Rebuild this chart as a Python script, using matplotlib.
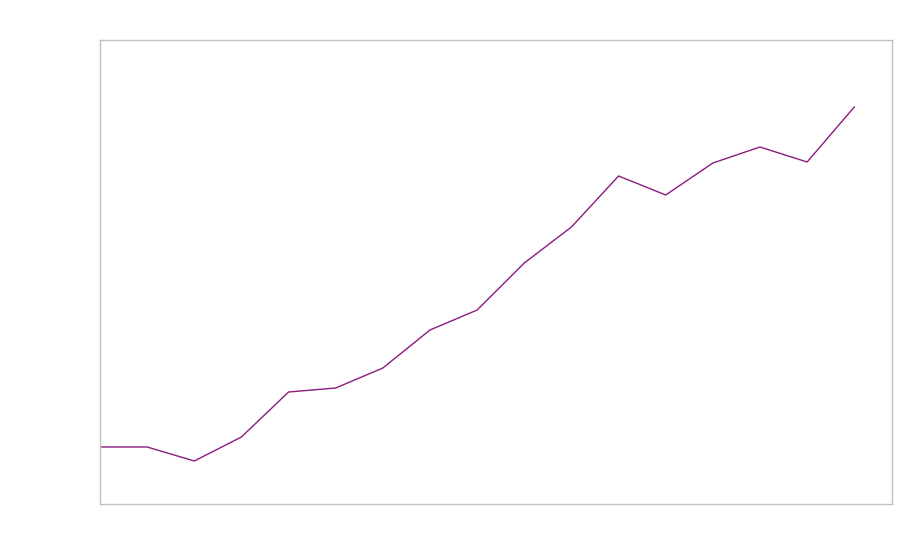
import matplotlib
matplotlib.use("Agg")
import matplotlib.pyplot as plt

# values (arbitrary units, no labels shown)
steps = list(range(17))
values = [57, 57, 43, 67, 112, 116, 136, 174, 194, 241, 277, 328, 309, 341, 357, 342, 397]

fig = plt.figure(figsize=(9, 5.6), dpi=100)
fig.set_facecolor('white')
ax = fig.add_axes([100 / 900, 56 / 560, 792 / 900, 464 / 560])

ax.plot(steps, values, color='#8b1a7e', linewidth=1)

ax.set_xlim(0, 16.8)
ax.set_ylim(0, 464)
ax.set_xticks([])
ax.set_yticks([])
for spine in ax.spines.values():
    spine.set_color('#c0c0c0')
    spine.set_linewidth(1)

fig.savefig('out.png', dpi=100)
